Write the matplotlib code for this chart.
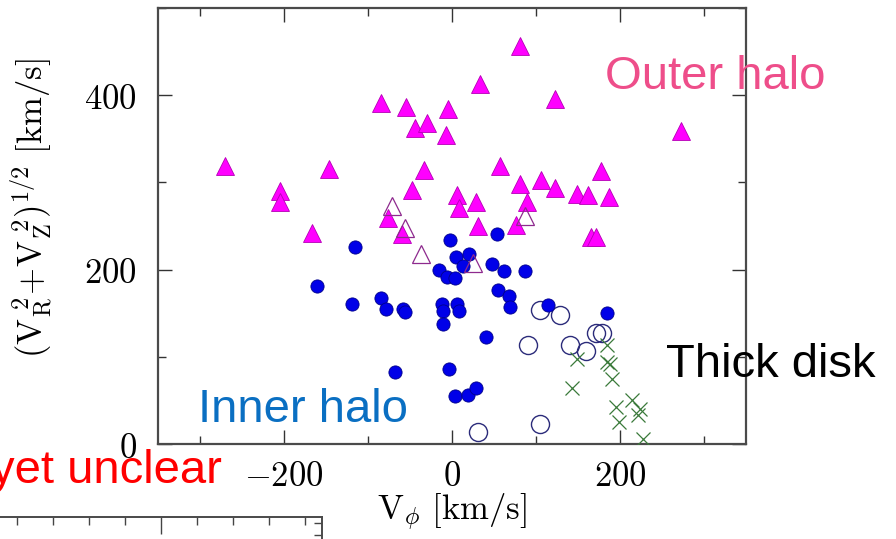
import matplotlib
matplotlib.use("Agg")
import matplotlib.pyplot as plt
from matplotlib.ticker import FixedLocator, MultipleLocator, FixedFormatter

plt.rcParams["mathtext.fontset"] = "cm"

# Outer halo: filled magenta triangles (V_phi, sqrt(V_R^2 + V_Z^2))
outer_vphi = [-270, -205, -205, -146, -167, -85, -55, -44, -30, -33, -48, -76, -60,
              -5, -7, 81, 33, 123, 273, 57, 81, 106, 123, 149, 162, 177, 187,
              6, 8, 28, 89, 31, 76, 165, 171]
outer_vrz = [319, 290, 277, 315, 242, 391, 387, 362, 368, 314, 291, 259, 241,
             384, 354, 456, 413, 396, 359, 319, 298, 303, 294, 287, 285, 313, 283,
             285, 271, 278, 277, 250, 251, 237, 237]

# Outer-halo candidates with lower membership: open triangles
outer_open_vphi = [-71, -56, -37, 87, 25]
outer_open_vrz = [273, 248, 218, 262, 208]

# Inner halo: filled blue circles
inner_vphi = [-115, -161, -119, -84, -78, -58, -56, -68,
              -2, 54, 5, 20, 13, -16, -6, 4, 48, 62, 87,
              -12, -11, -11, 6, 8, 40, -4, 4, 19, 28,
              55, 68, 69, 114, 185]
inner_vrz = [226, 181, 161, 168, 155, 155, 151, 82,
             234, 241, 214, 218, 204, 200, 192, 190, 206, 198, 198,
             161, 153, 138, 161, 152, 123, 86, 55, 56, 64,
             177, 170, 157, 159, 150]

# Inner-halo / disk transition: open circles
open_vphi = [105, 129, 90, 140, 160, 172, 178, 105, 31]
open_vrz = [154, 148, 113, 113, 107, 127, 127, 23, 14]

# Thick disk: crosses
disk_vphi = [184, 149, 184, 188, 190, 143, 195, 214, 224, 221, 199, 227]
disk_vrz = [113, 97, 94, 92, 75, 64, 42, 51, 40, 33, 25, 6]

x_major = [-200, 0, 200]
x_major_labels = [r"$-200$", r"$0$", r"$200$"]
y_major = [0, 200, 400]
y_major_labels = [r"$0$", r"$200$", r"$400$"]

W, H = 896, 539
fig = plt.figure(figsize=(W / 100, H / 100), dpi=100)
fig.patch.set_facecolor("white")

# main panel
ax = fig.add_axes([158 / W, 1 - 444 / H, (746 - 158) / W, (444 - 8) / H])
ax.set_xlim(-350, 350)
ax.set_ylim(0, 500)

ax.plot(open_vphi, open_vrz, linestyle="none", marker="o", ms=13,
        mfc="none", mec="#2b2b7a", mew=1.0, zorder=3)
ax.plot(inner_vphi, inner_vrz, linestyle="none", marker="o", ms=9.5,
        mfc="#0000e8", mec="#00008a", mew=0.6, zorder=4)
ax.plot(outer_vphi, outer_vrz, linestyle="none", marker="^", ms=13,
        mfc="#ff00ff", mec="#b400b4", mew=0.6, zorder=5)
ax.plot(outer_open_vphi, outer_open_vrz, linestyle="none", marker="^", ms=13,
        mfc="none", mec="#8e2a8e", mew=0.9, zorder=6)
ax.plot(disk_vphi, disk_vrz, linestyle="none", marker="x", ms=10,
        color="#3a7a3a", mew=0.9, zorder=6)

for side in ["left", "right", "top", "bottom"]:
    ax.spines[side].set_color("#4a4a4a")
    ax.spines[side].set_linewidth(1.6)

ax.xaxis.set_major_locator(FixedLocator(x_major))
ax.xaxis.set_major_formatter(FixedFormatter(x_major_labels))
ax.xaxis.set_minor_locator(MultipleLocator(100))
ax.yaxis.set_major_locator(FixedLocator(y_major))
ax.yaxis.set_major_formatter(FixedFormatter(y_major_labels))
ax.yaxis.set_minor_locator(MultipleLocator(100))
ax.tick_params(which="both", direction="in", top=True, right=True,
               color="#333333", width=1.0)
ax.tick_params(which="major", length=10)
ax.tick_params(which="minor", length=5.5)
ax.tick_params(axis="x", which="major", labelsize=25, pad=11)
ax.tick_params(axis="y", which="major", labelsize=25, pad=15)

ax.set_xlabel(r"$\mathrm{V}_\phi\ [\mathrm{km/s}]$", fontsize=25)
ax.xaxis.set_label_coords(0.5, -0.11)
ax.set_ylabel(r"$(\mathrm{V}_\mathrm{R}^{\ 2}\!+\!\mathrm{V}_\mathrm{Z}^{\ 2})^{1/2}\ [\mathrm{km/s}]$",
              fontsize=25)
ax.yaxis.set_label_coords(-0.175, 0.54)

# edge of the neighbouring panel below
ax2 = fig.add_axes([0, 1 - 563 / H, 322 / W, 46 / H])
ax2.set_xlim(-17 / 36, 305 / 36)
ax2.set_ylim(3.5 - 46 / 12, 3.5)
for side in ["left", "bottom"]:
    ax2.spines[side].set_visible(False)
for side in ["top", "right"]:
    ax2.spines[side].set_color("#4a4a4a")
    ax2.spines[side].set_linewidth(1.4)
ax2.xaxis.set_major_locator(FixedLocator([4]))
ax2.xaxis.set_minor_locator(MultipleLocator(1))
ax2.yaxis.set_major_locator(FixedLocator([]))
ax2.yaxis.set_minor_locator(FixedLocator([2, 3]))
ax2.tick_params(which="both", direction="in", top=True, bottom=False,
                right=True, left=False, labeltop=False, labelbottom=False,
                labelleft=False, labelright=False, color="#444444", width=1.0)
ax2.tick_params(which="major", length=12)
ax2.tick_params(which="minor", length=6)

# population labels
label_font = dict(family="Liberation Sans", fontsize=34)
fig.text(605 / W, 1 - 89 / H, "Outer halo", color="#ee4e8a",
         ha="left", va="baseline", **label_font)
fig.text(666 / W, 1 - 377 / H, "Thick disk", color="black",
         ha="left", va="baseline", **label_font)
fig.text(198 / W, 1 - 422 / H, "Inner halo", color="#0a6fc2",
         ha="left", va="baseline", **label_font)
fig.text(222 / W, 1 - 483 / H, "yet unclear", color="#ff0000",
         ha="right", va="baseline", **label_font)

fig.savefig("out.png", dpi=100, facecolor="white")
